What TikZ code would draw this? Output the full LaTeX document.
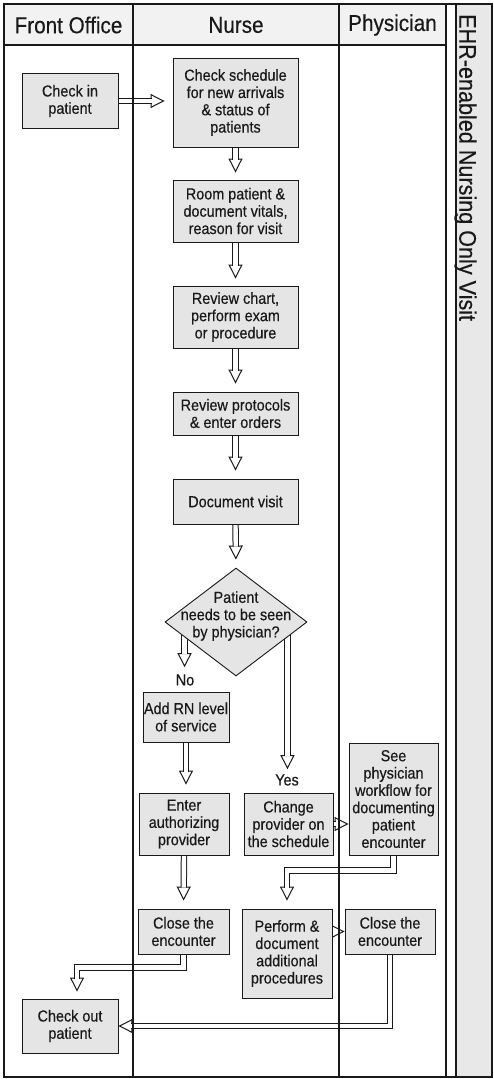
\documentclass[tikz,border=0pt]{standalone}
\usepackage{fontspec}
\setmainfont{Liberation Sans}[FakeStretch=0.9, FakeBold=0.4]
\usetikzlibrary{arrows.meta,shapes.geometric,calc}
\pgfdeclarelayer{bg}
\pgfsetlayers{bg,main}
\definecolor{boxfill}{gray}{0.9}
\definecolor{headfill}{gray}{0.95}
\definecolor{sidefill}{gray}{0.91}
\definecolor{ink}{gray}{0.1}
\tikzset{
  stepbox/.style={draw=ink, fill=boxfill, line width=0.9pt, align=center, inner sep=1pt,
    font=\fontsize{16}{17.3}\selectfont, text=ink},
  sz/.style 2 args={minimum width=#1pt, minimum height=#2pt},
  headtext/.style={font=\fontsize{23}{26}\selectfont, inner sep=0pt, text=ink},
  lbl/.style={font=\fontsize{16}{17.3}\selectfont, inner sep=1pt, text=ink, align=center},
  lane/.style={draw=ink, line width=2pt},
  hhead/.style={draw=ink, line width=1pt,
    -{Triangle[length=14pt,width=14pt,fill=white]}, shorten >=#1},
  hhead/.default=0pt,
  hshaft/.style={draw=ink, line width=1pt, double=white, double distance=4.4pt,
    shorten >=#1+13pt},
  hshaft/.default=0pt
}
\newcommand\harr[2][0pt]{\draw[hhead=#1] #2; \draw[hshaft=#1] #2;}
\begin{document}
\begin{tikzpicture}[x=1pt,y=-1pt]
\useasboundingbox (0,0) rectangle (493,1079);
% lanes
\fill[headfill] (4,4) rectangle (446,45);
\fill[sidefill] (456,4) rectangle (491.5,1076.5);
\draw[lane] (4,45) -- (446,45);
\draw[lane] (4,4) rectangle (491.5,1076.5);
\draw[lane] (133,4) -- (133,1076.5);
\draw[lane] (339,4) -- (339,1076.5);
\draw[lane] (446,4) -- (446,1076.5);
\draw[lane] (456,4) -- (456,1076.5);
\node[headtext] (hfo) at (68.5,25) {Front Office};
\node[headtext] (hnu) at (236,25) {Nurse};
\node[headtext] (hph) at (392.5,25) {Physician};
\node[headtext, font=\fontsize{24}{26}\selectfont, rotate=-90, anchor=west] (title) at (465.5,14) {EHR-enabled Nursing Only Visit};
% steps
\node[stepbox, sz={96}{55}] (checkin) at (70,101) {Check in\\patient};
\node[stepbox, sz={125}{89}] (sched) at (235.5,102.5) {Check schedule\\for new arrivals\\\& status of\\patients};
\node[stepbox, sz={125}{62}] (room) at (235.5,211) {Room patient \&\\document vitals,\\reason for visit};
\node[stepbox, sz={125}{62}] (chart) at (235.5,317) {Review chart,\\perform exam\\or procedure};
\node[stepbox, sz={125}{43}] (proto) at (235.5,413.5) {Review protocols\\\& enter orders};
\node[stepbox, sz={125}{45}] (docv) at (235.5,501.5) {Document visit};
\node[diamond, draw=ink, fill=boxfill, line width=0.9pt, minimum width=142pt, minimum height=108pt, inner sep=0pt] (dia) at (236,622) {};
\node[lbl] (diatext) at (236,616) {Patient\\needs to be seen\\by physician?};
\node[lbl] (no) at (185,680) {No};
\node[lbl] (yes) at (287,780) {Yes};
\node[stepbox, sz={86}{50}] (addrn) at (186,717) {Add RN level\\of service};
\node[stepbox, sz={90}{62}] (enter) at (184,824) {Enter\\authorizing\\provider};
\node[stepbox, sz={89}{62}] (change) at (288.5,824) {Change\\provider on\\the schedule};
\node[stepbox, sz={89}{112}] (seephys) at (393.5,799) {See\\physician\\workflow for\\documenting\\patient\\encounter};
\node[stepbox, sz={91}{45}] (closen) at (183.5,931.5) {Close the\\encounter};
\node[stepbox, sz={90}{89}] (perform) at (287,953.5) {Perform \&\\document\\additional\\procedures};
\node[stepbox, sz={90}{45}] (closep) at (390,931.5) {Close the\\encounter};
\node[stepbox, sz={96}{54}] (checkout) at (70,1026) {Check out\\patient};
\coordinate (noS) at ($(dia.west)!0.28!(dia.south)$);
\coordinate (yesS) at ($(dia.east)!0.28!(dia.south)$);
% connectors
\begin{pgfonlayer}{bg}
\fill[white] (0,0) rectangle (493,1079);
\harr[8pt]{(checkin.east) -- (checkin.east -| sched.west)}
\harr[7pt]{(sched.south) -- (room.north)}
\harr[7pt]{(room.south) -- (chart.north)}
\harr[8pt]{(chart.south) -- (proto.north)}
\harr[8pt]{(proto.south) -- (docv.north)}
\harr[8pt]{(docv.south) -- (dia.north)}
\harr[6pt]{([yshift=8pt]noS) -- (noS |- no.north)}
\harr[4pt]{([yshift=8pt]yesS) -- (yesS |- yes.north)}
\harr[8pt]{(addrn.south) -- (addrn.south |- enter.north)}
\harr{(change.east) -- (change.east -| seephys.west)}
\harr[8pt]{(seephys.south) -- ++(0,15) -| (perform.north)}
\harr[8pt]{(enter.south) -- (closen.north)}
\harr{(perform.east |- closep.west) -- (closep.west)}
\harr[7pt]{(closen.south) -- ++(0,13) -| ([xshift=7pt]checkout.north)}
\harr{(closep.south) |- (checkout.east)}
\end{pgfonlayer}
\end{tikzpicture}
\end{document}
